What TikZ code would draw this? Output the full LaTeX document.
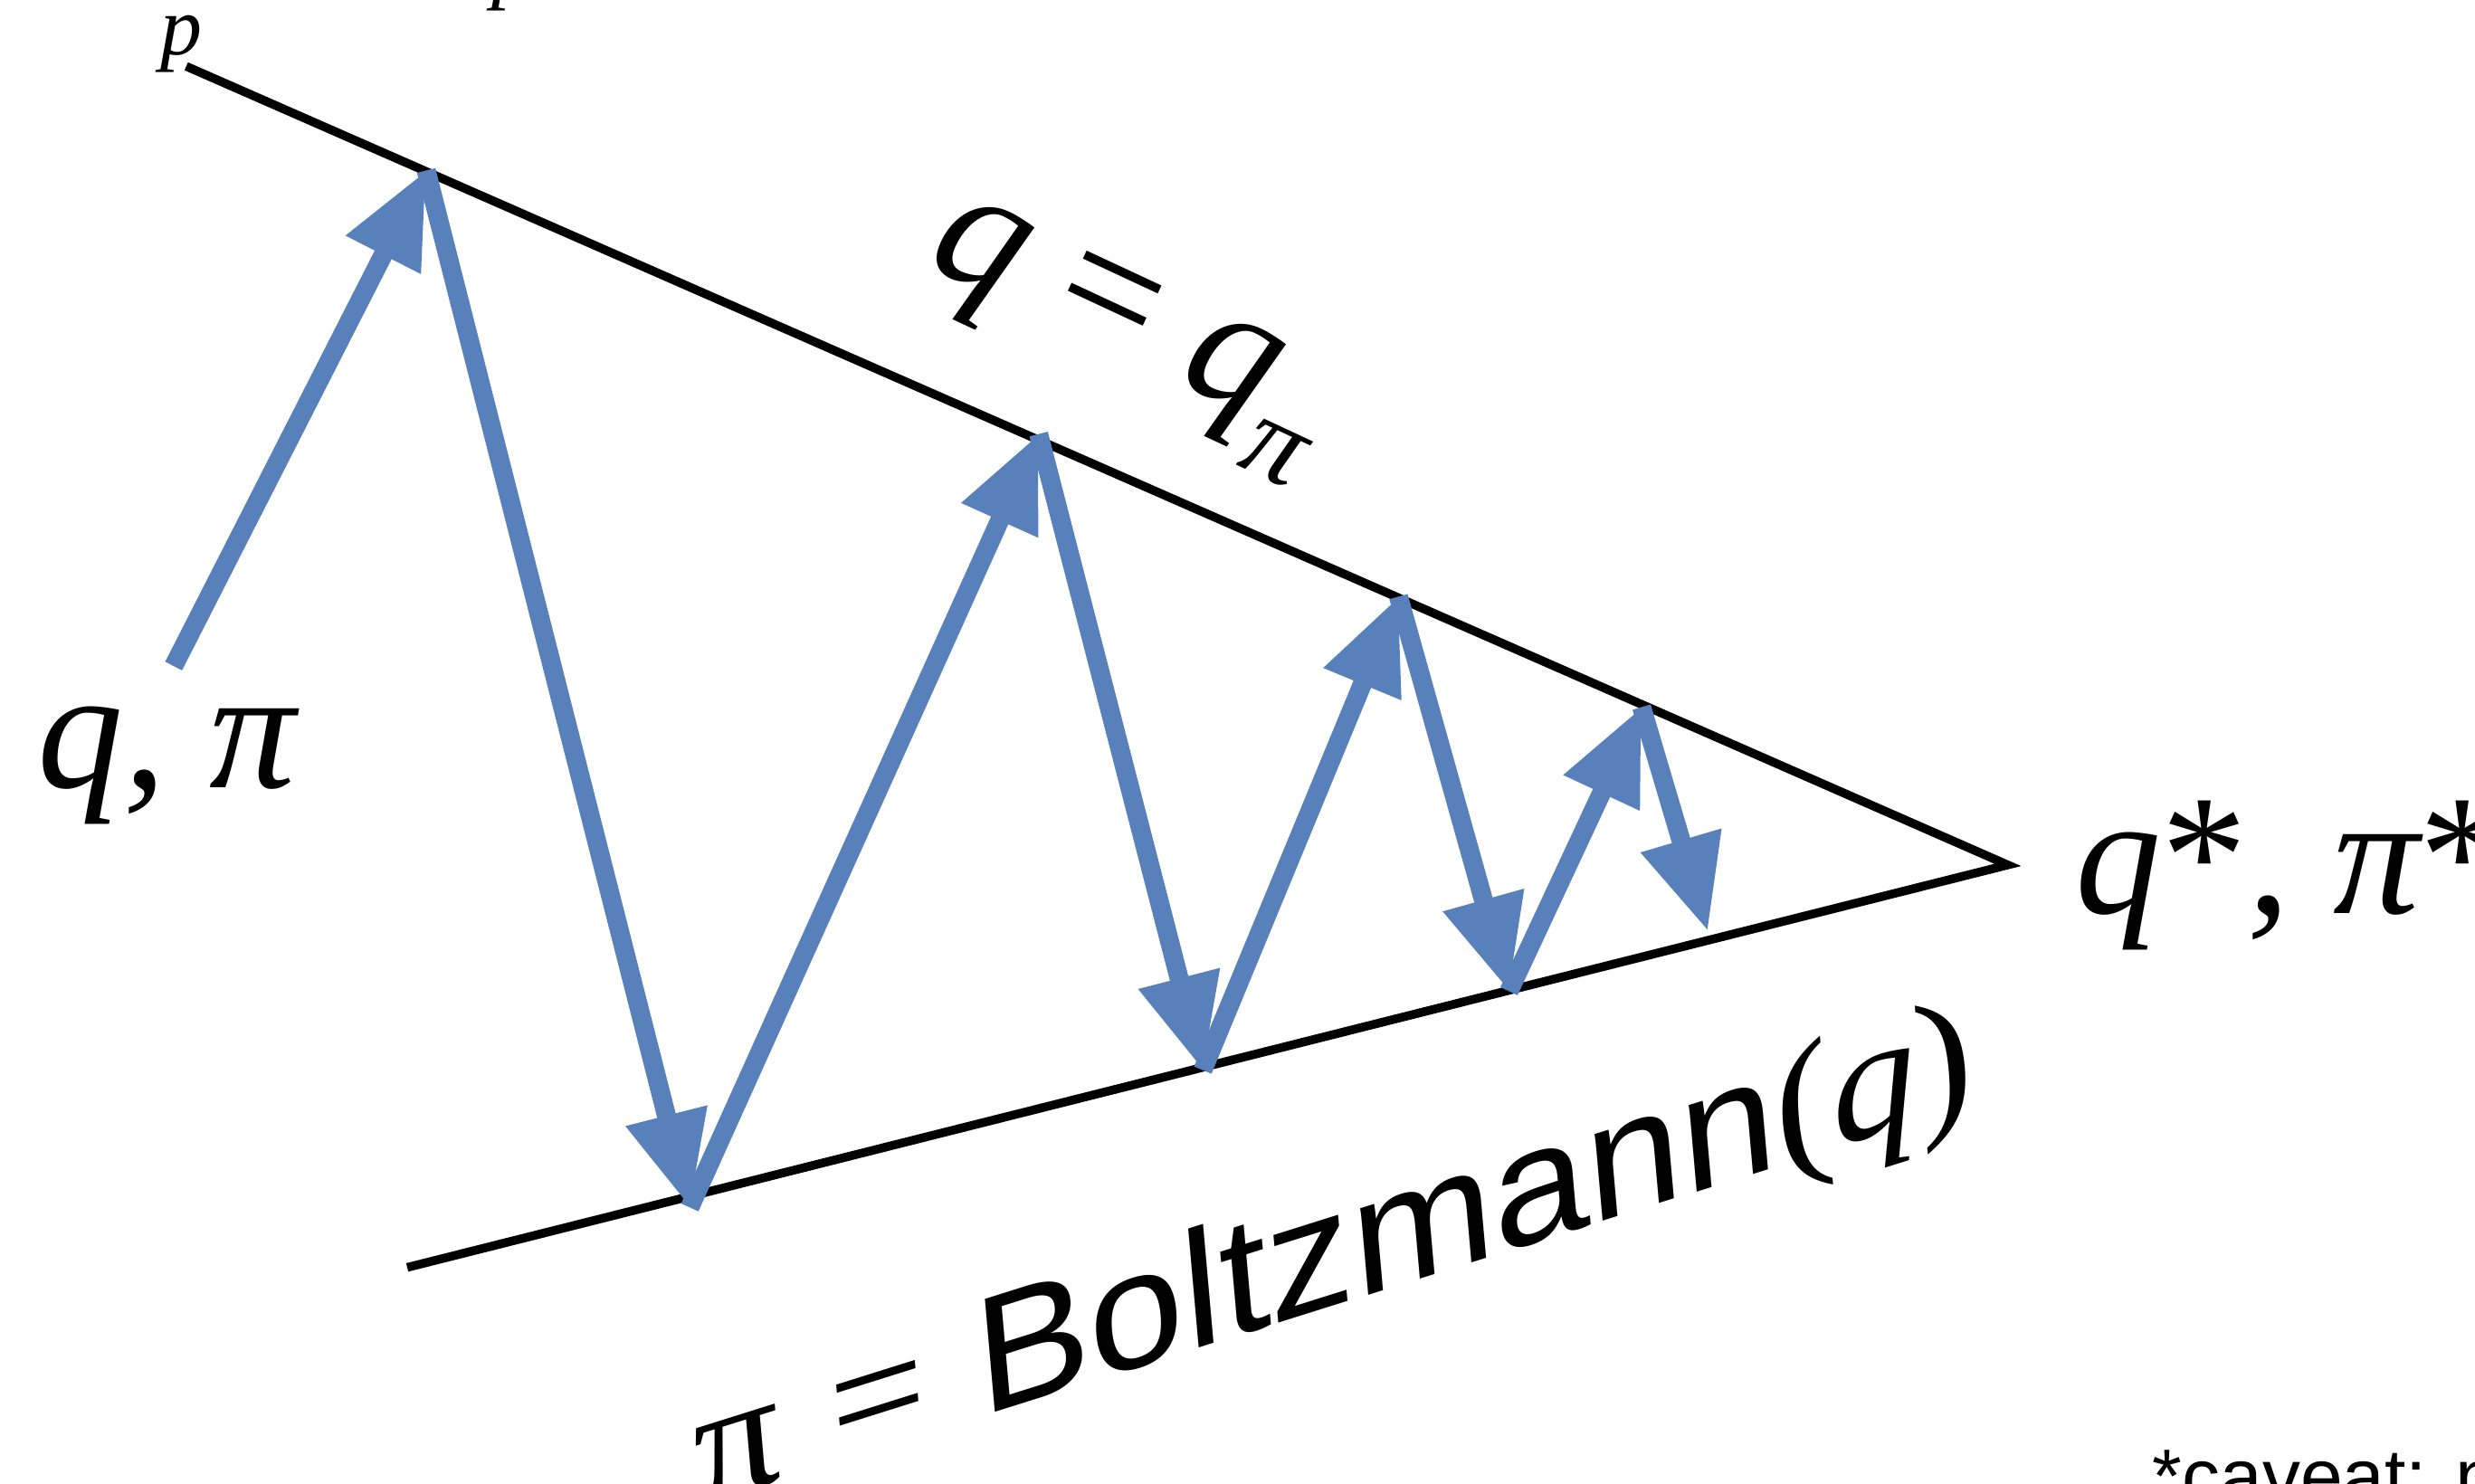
\documentclass[tikz,border=0pt]{standalone}
\usepackage{fontspec}
\newfontfamily\tms{Liberation Serif}
\newfontfamily\hlv{Liberation Sans}
\usetikzlibrary{arrows.meta}
\definecolor{iterblue}{RGB}{88,128,186}

\begin{document}
\begin{tikzpicture}[
    x=0.1mm, y=-0.1mm,
    rail/.style={line width=0.55mm, black},
    iter/.style={line width=1.2mm, iterblue, -{Triangle[length=6mm, width=5mm]}},
    lbl/.style={inner sep=0pt, font=\tms\itshape\fontsize{31}{31}\selectfont}
]
\useasboundingbox (0,0) rectangle (1568,940);

% -- corners of the wedge --
\coordinate (top) at (118,42);
\coordinate (bot) at (258,803);
\coordinate (fix) at (1272,548);

% -- bounce points --
\coordinate (s0) at (110,422);
\coordinate (t1) at (270,108);
\coordinate (b1) at (437,765);
\coordinate (t2) at (658,275);
\coordinate (b2) at (762,678);
\coordinate (t3) at (886,378);
\coordinate (b3) at (956,628);
\coordinate (t4) at (1040,448);
\coordinate (e4) at (1082,590);

% -- the two constraint lines --
\draw[rail] (top) -- (fix) -- (bot);

% -- alternating updates --
\draw[iter] (s0) -- (t1);
\draw[iter] (t1) -- (b1);
\draw[iter] (b1) -- (t2);
\draw[iter] (t2) -- (b2);
\draw[iter] (b2) -- (t3);
\draw[iter] (t3) -- (b3);
\draw[iter] (b3) -- (t4);
\draw[iter] (t4) -- (e4);

% -- labels --
\node[font=\tms\itshape\fontsize{15}{15}\selectfont] (plow) at (115,28) {p};
\node[font=\tms\itshape\fontsize{15}{15}\selectfont] (pcut) at (325,-11) {p};

\node[lbl, anchor=base west] (start) at (23,499) {q, π};
\node[lbl, anchor=base west] (limit) at (1314,579) {q{\upshape*}, π{\upshape*}};

\node[lbl, font=\tms\itshape\fontsize{32}{32}\selectfont, rotate=-25] (qline) at (712,215)
    {q {\upshape =} q\raisebox{-0.28em}{\fontsize{21}{21}\selectfont π}};

\node[inner sep=0pt, font=\fontsize{29}{29}\selectfont, cm={1.05,0.33,-0.09,1.02,(0,0)}] (pline) at (845,800)
    {{\tms π} {\tms =} {\hlv Boltzmann}{\tms(\itshape q\/\upshape)}};

\node[inner sep=0pt, anchor=base west, font=\hlv\fontsize{13.7}{14}\selectfont] (caveat) at (1363,952) {*caveat: n};

\end{tikzpicture}
\end{document}
